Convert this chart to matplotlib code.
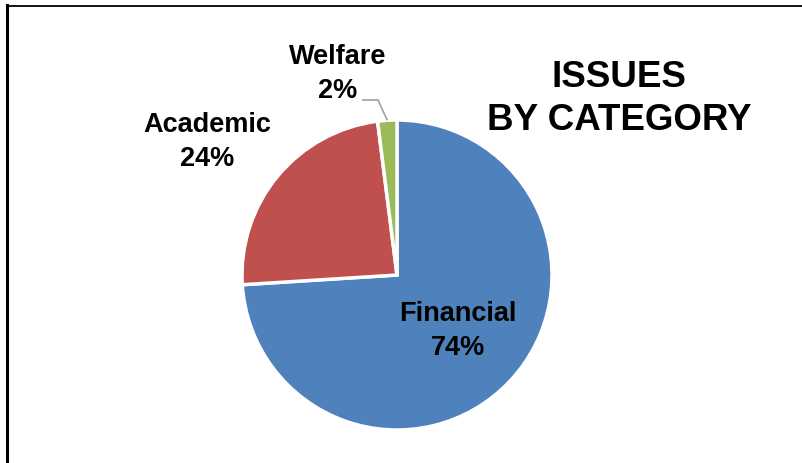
import numpy as np
import matplotlib
matplotlib.use("Agg")
import matplotlib.pyplot as plt
from matplotlib.lines import Line2D

categories = ["Financial", "Academic", "Welfare"]
values = [74, 24, 2]
colors = ["#4F81BD", "#C0504D", "#9BBB59"]

W, H = 803, 463
fig = plt.figure(figsize=(W / 100, H / 100), dpi=100)
ax = fig.add_axes([0, 0, 1, 1])

cx, cy, r = 397, H - 275, 155
wedges, _ = ax.pie(values, colors=colors, startangle=90, counterclock=False,
                   center=(cx, cy), radius=r, frame=True,
                   wedgeprops=dict(edgecolor="white", linewidth=2.5))
ax.set_xlim(0, W)
ax.set_ylim(0, H)
ax.set_aspect("equal")
ax.axis("off")

font = ["Liberation Sans", "DejaVu Sans"]
fs = 19.5
ls = 1.42
ax.text(458, H - 331, f"{categories[0]}\n{values[0]}%", ha="center", va="center",
        fontsize=fs, fontweight="bold", family=font, linespacing=ls)
ax.text(207, H - 142, f"{categories[1]}\n{values[1]}%", ha="center", va="center",
        fontsize=fs, fontweight="bold", family=font, linespacing=ls)
ax.text(338, H - 74, f"{categories[2]}\n{values[2]}%", ha="center", va="center",
        fontsize=fs, fontweight="bold", family=font, linespacing=ls)

# leader line for Welfare
w = wedges[2]
mid = np.deg2rad((w.theta1 + w.theta2) / 2)
ex, ey = cx + r * np.cos(mid), cy + r * np.sin(mid)
ax.plot([362, 378, ex], [H - 100, H - 100, ey], color="#A6A6A6", lw=1.3,
        solid_capstyle="butt")

# title
ax.text(619, H - 99, "ISSUES\nBY CATEGORY", ha="center", va="center",
        fontsize=26.5, fontweight="bold", family=font, linespacing=1.3)

# partial frame
fig.add_artist(Line2D([7 / W, 1], [1 - 5.5 / H, 1 - 5.5 / H], color="black", lw=1.3,
                      transform=fig.transFigure))
fig.add_artist(Line2D([7 / W, 7 / W], [0, 1 - 5 / H], color="black", lw=2.2,
                      transform=fig.transFigure))

fig.savefig("out.png", dpi=100)
